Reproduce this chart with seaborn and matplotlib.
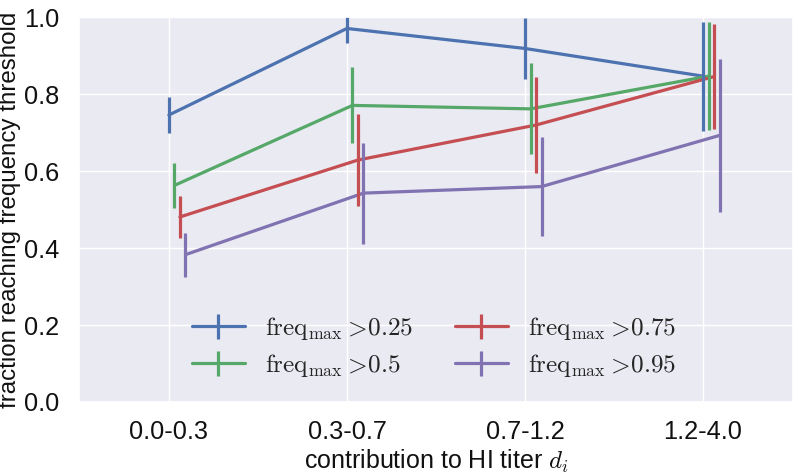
import numpy as np
import pandas as pd
import matplotlib
matplotlib.use("Agg")
import matplotlib.pyplot as plt
import seaborn as sns
from matplotlib.legend_handler import HandlerTuple

# ---- data ----
categories = ["0.0-0.3", "0.3-0.7", "0.7-1.2", "1.2-4.0"]
thresholds = ["0.25", "0.5", "0.75", "0.95"]

frac_025 = [0.746, 0.971, 0.919, 0.847]
err_025 = [0.047, 0.037, 0.080, 0.142]
frac_05 = [0.563, 0.771, 0.762, 0.847]
err_05 = [0.058, 0.099, 0.118, 0.140]
frac_075 = [0.481, 0.629, 0.720, 0.846]
err_075 = [0.055, 0.119, 0.124, 0.137]
frac_095 = [0.383, 0.543, 0.560, 0.693]
err_095 = [0.057, 0.131, 0.129, 0.198]

fracs = [frac_025, frac_05, frac_075, frac_095]
errs = [err_025, err_05, err_075, err_095]

# ---- style ----
sns.set_theme(style="darkgrid")
plt.rcParams["font.family"] = ["Liberation Sans", "DejaVu Sans"]
plt.rcParams["mathtext.fontset"] = "cm"
colors = ["#4C72B0", "#55A868", "#C44E52", "#8172B2"]
offset_step = 0.031
lw = 2.3

labels = [r"$\mathrm{freq}_{\mathrm{max}}>\!%s$" % t for t in thresholds]

rows = []
for si, (lab, fr, er) in enumerate(zip(labels, fracs, errs)):
    for ci, (f, e) in enumerate(zip(fr, er)):
        rows.append({"series": lab, "cat": ci, "xpos": ci + si * offset_step,
                     "frac": f, "err": e})
df = pd.DataFrame(rows)

fig = plt.figure(figsize=(7.96, 4.74), dpi=100)
ax = fig.add_axes([0.0992, 0.1519, 0.897, 0.8116])

sns.lineplot(data=df, x="xpos", y="frac", hue="series", palette=colors,
             linewidth=lw, legend=False, ax=ax, sort=True, errorbar=None)

handles = []
for si, lab in enumerate(labels):
    sub = df[df["series"] == lab]
    cont = ax.errorbar(sub["xpos"], sub["frac"], yerr=sub["err"], fmt="none",
                       ecolor=colors[si], elinewidth=lw, capsize=0)
    line = ax.lines[si]
    handles.append((line, cont))

ax.set_xlim(-0.505, 3.505)
ax.set_ylim(0, 1.0)
ax.set_xticks(range(len(categories)))
ax.set_xticklabels(categories)
ax.set_yticks(np.arange(0, 1.01, 0.2))
ax.set_yticklabels(["%.1f" % v for v in np.arange(0, 1.01, 0.2)])
ax.tick_params(axis="both", labelsize=18.3, colors="#111111")
ax.tick_params(axis="y", pad=8)
ax.tick_params(axis="x", pad=7)
ax.set_xlabel(r"contribution to HI titer $d_i$", fontsize=18, labelpad=3,
              color="#111111")
ax.set_ylabel("fraction reaching frequency threshold", fontsize=17.4,
              labelpad=2, color="#111111")

ax.legend(handles, labels, handler_map={tuple: HandlerTuple(ndivide=1)},
          ncol=2, frameon=False, fontsize=18.2, handlelength=2.1,
          loc="lower left", bbox_to_anchor=(0.126, 0.0), columnspacing=1.65,
          labelspacing=0.4, handletextpad=0.8)

fig.savefig("out.png", dpi=100)
